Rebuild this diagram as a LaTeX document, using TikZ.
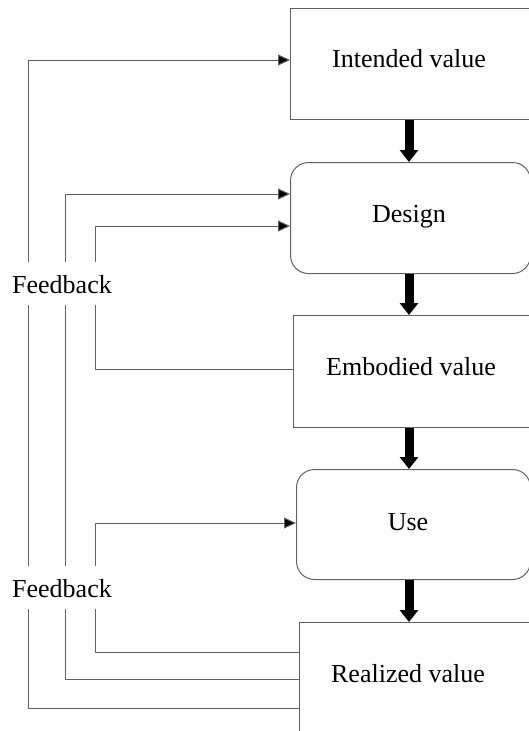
\documentclass[tikz,border=0pt]{standalone}
\usepackage{fontspec}
\setmainfont{Liberation Serif}
\usetikzlibrary{arrows.meta}
\begin{document}
\begin{tikzpicture}[x=1pt,y=-1pt,
  box/.style={draw=black!62, line width=1pt, minimum width=250pt, anchor=north west, inner sep=0pt},
  rbox/.style={box, rounded corners=18pt},
  txt/.style={anchor=base, inner sep=0pt, font=\fontsize{26}{31}\selectfont},
  fbl/.style={txt, fill=white, inner xsep=1pt, text height=31pt, text depth=12pt},
  flow/.style={line width=9pt, -{Triangle[length=12pt,width=18pt]}, black},
  fb/.style={draw=black!62, line width=1pt, -{Triangle[length=12pt,width=11pt,fill=black]}}
]
\useasboundingbox (0,0) rectangle (529,731);
\clip (0,0) rectangle (529,731);
% boxes
\node[box, minimum height=111pt] (int) at (290,8) {};
\node[rbox, minimum width=240pt, minimum height=111pt] (des) at (290,162) {};
\node[box, minimum height=112pt] (emb) at (293,315) {};
\node[rbox, minimum width=234pt, minimum height=110pt] (use) at (296,469) {};
\node[box, minimum height=150pt] (rea) at (299,622) {};
% labels
\node[txt] (tint) at (409,67) {Intended value};
\node[txt] (tdes) at (409,222) {Design};
\node[txt] (temb) at (411,375) {Embodied value};
\node[txt] (tuse) at (408,530) {Use};
\node[txt] (trea) at (408,682) {Realized value};
% main flow
\draw[flow] (int.south -| tint) -- (des.north -| tint);
\draw[flow] (des.south -| tint) -- (emb.north -| tint);
\draw[flow] (emb.south -| tint) -- (use.north -| tint);
\draw[flow] (use.south -| tint) -- (rea.north -| tint);
% feedback
\draw[fb] (rea.west |- 0,708) -| (28,60) -- (int.west |- 0,60);
\draw[fb] (rea.west |- 0,679) -| (65,194) -- (des.west |- 0,194);
\draw[fb] (emb.west |- 0,369) -| (95,226) -- (des.west |- 0,226);
\draw[fb] (rea.west |- 0,652) -| (95,523) -- (use.west |- 0,523);
\node[fbl] (fb1) at (62,293) {Feedback};
\node[fbl] (fb2) at (62,597) {Feedback};
\end{tikzpicture}
\end{document}
